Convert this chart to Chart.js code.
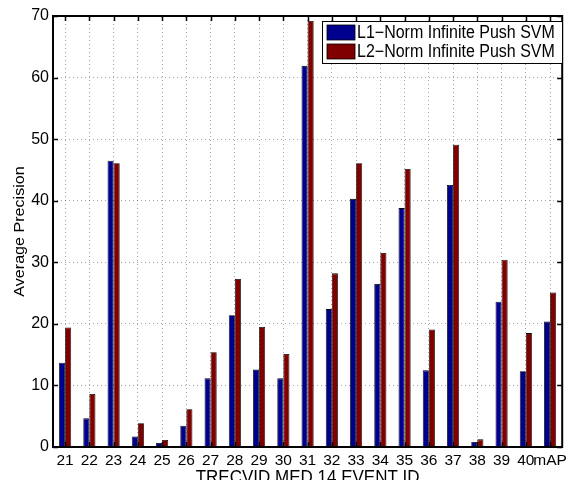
<!DOCTYPE html>
<html>
<head>
<meta charset="utf-8">
<script src="https://cdn.jsdelivr.net/npm/chart.js@4"></script>
<style>
html,body{margin:0;padding:0;background:#fff;}
canvas{display:block;}
</style>
</head>
<body>
<canvas id="c" width="571" height="480"></canvas>
<script>
const categories = ['21','22','23','24','25','26','27','28','29','30','31','32','33','34','35','36','37','38','39','40','mAP'];
const l1Norm = [13.7, 4.65, 46.5, 1.7, 0.65, 3.47, 11.15, 21.4, 12.6, 11.15, 61.9, 22.4, 40.3, 26.5, 38.8, 12.45, 42.55, 0.8, 23.6, 12.3, 20.4];
const l2Norm = [19.4, 8.6, 46.1, 3.85, 1.14, 6.12, 15.4, 27.3, 19.5, 15.1, 69.2, 28.2, 46.1, 31.5, 45.15, 19.1, 49.1, 1.24, 30.4, 18.5, 25.1];
const seriesNames = ['L1\u2212Norm Infinite Push SVM', 'L2\u2212Norm Infinite Push SVM'];
const yMin = 0, yMax = 70, yStep = 10;
const xTitle = 'TRECVID MED 14 EVENT ID';
const yTitle = 'Average Precision';

const FONT = '"Liberation Sans", Arial, Helvetica, sans-serif';

const framePlugin = {
  id: 'frame',
  afterDraw(chart) {
    const {ctx, chartArea: a, scales} = chart;
    const x = scales.x, y = scales.y;
    ctx.save();
    // inward tick marks
    ctx.strokeStyle = '#000';
    ctx.lineWidth = 1.5;
    ctx.beginPath();
    y.ticks.forEach(t => {
      const py = Math.round(y.getPixelForValue(t.value)) + 0.5;
      ctx.moveTo(a.left, py); ctx.lineTo(a.left + 5, py);
      ctx.moveTo(a.right, py); ctx.lineTo(a.right - 5, py);
    });
    categories.forEach((c, i) => {
      const px = Math.round(x.getPixelForValue(i)) + 0.5;
      ctx.moveTo(px, a.bottom); ctx.lineTo(px, a.bottom - 5);
      ctx.moveTo(px, a.top); ctx.lineTo(px, a.top + 5);
    });
    ctx.stroke();
    // box
    ctx.lineWidth = 2;
    ctx.strokeRect(a.left, a.top, a.right - a.left, a.bottom - a.top);
    // x title
    ctx.fillStyle = '#000';
    ctx.save();
    ctx.translate((a.left + a.right) / 2, 468);
    ctx.scale(1, 1.1);
    ctx.font = '17px ' + FONT;
    ctx.textAlign = 'center';
    ctx.textBaseline = 'top';
    ctx.fillText(xTitle, 0, 0);
    ctx.restore();
    // y title
    ctx.save();
    ctx.translate(20, (a.top + a.bottom) / 2);
    ctx.rotate(-Math.PI / 2);
    ctx.scale(1.15, 1);
    ctx.font = '14px ' + FONT;
    ctx.textAlign = 'center';
    ctx.textBaseline = 'middle';
    ctx.fillText(yTitle, 0, 0);
    ctx.restore();
    // legend
    const lx = 322, ly = 21, lw = 240, lh = 42;
    ctx.fillStyle = '#fff';
    ctx.fillRect(lx, ly, lw, lh);
    ctx.lineWidth = 1;
    ctx.strokeStyle = '#000';
    ctx.strokeRect(lx + 0.5, ly + 0.5, lw, lh);
    chart.data.datasets.forEach((ds, i) => {
      const ry = 25 + i * 19;
      ctx.fillStyle = ds.backgroundColor;
      ctx.fillRect(327, ry, 28, 15);
      ctx.strokeStyle = '#000';
      ctx.lineWidth = 0.8;
      ctx.strokeRect(327, ry, 28, 15);
      ctx.fillStyle = '#000';
      ctx.save();
      ctx.translate(357, ry + 8);
      ctx.scale(1, 1.1);
      ctx.font = '16px ' + FONT;
      ctx.textAlign = 'left';
      ctx.textBaseline = 'middle';
      ctx.fillText(ds.label, 0, 0);
      ctx.restore();
    });
    ctx.restore();
  }
};

new Chart(document.getElementById('c'), {
  type: 'bar',
  data: {
    labels: categories,
    datasets: [
      {label: seriesNames[0], data: l1Norm, backgroundColor: '#00008F', borderColor: '#000', borderWidth: 0.8, categoryPercentage: 0.5, barPercentage: 1.0},
      {label: seriesNames[1], data: l2Norm, backgroundColor: '#800000', borderColor: '#000', borderWidth: 0.8, categoryPercentage: 0.5, barPercentage: 1.0}
    ]
  },
  options: {
    responsive: false,
    animation: false,
    layout: {padding: {top: 16, right: 5, left: 0, bottom: 0}},
    plugins: {legend: {display: false}, tooltip: {enabled: false}},
    scales: {
      x: {
        offset: true,
        grid: {offset: false, drawTicks: false, color: 'rgba(0,0,0,0.35)', lineWidth: 1},
        border: {display: false, dash: [1, 3]},
        ticks: {color: '#000', font: {family: FONT, size: 15.5}, padding: 4, maxRotation: 0, autoSkip: false},
        afterFit: s => { s.height = 33; }
      },
      y: {
        min: yMin, max: yMax,
        grid: {drawTicks: false, color: 'rgba(0,0,0,0.35)', lineWidth: 1},
        border: {display: false, dash: [1, 3]},
        ticks: {stepSize: yStep, color: '#000', font: {family: FONT, size: 16}, padding: 4},
        afterFit: s => { s.width = 53; }
      }
    }
  },
  plugins: [framePlugin]
});
</script>
</body>
</html>
